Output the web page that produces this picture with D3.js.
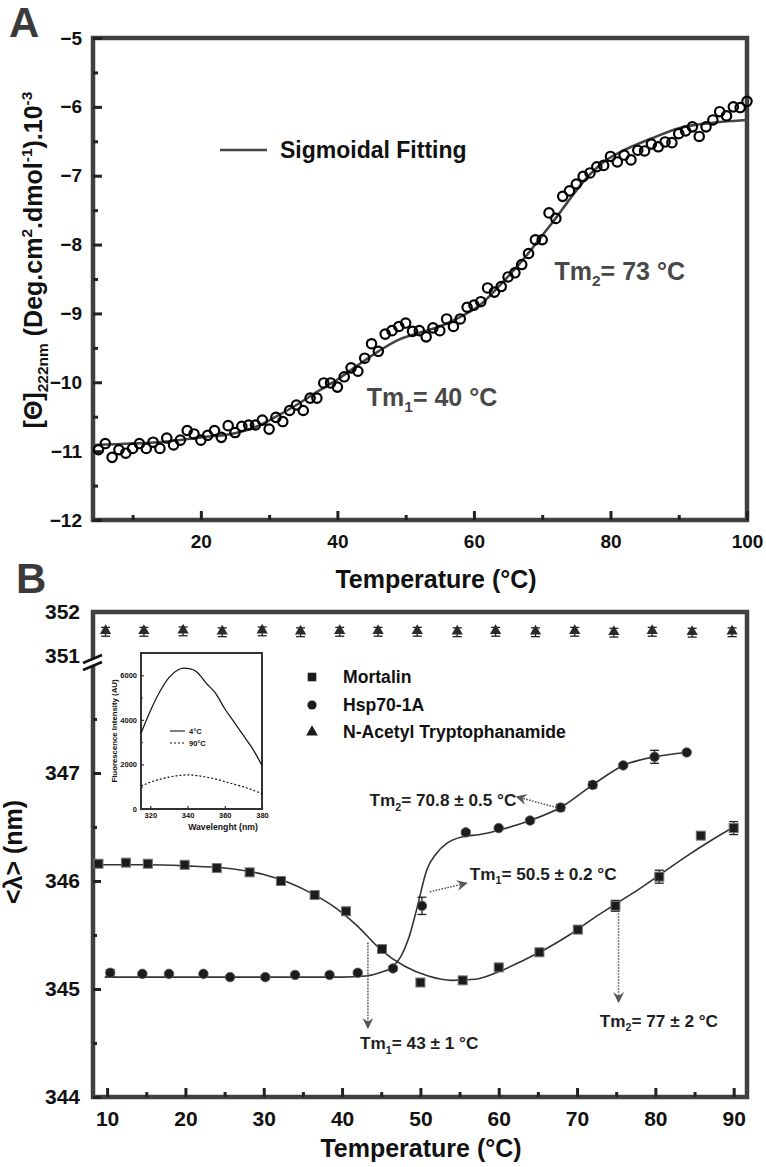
<!DOCTYPE html>
<html><head><meta charset="utf-8">
<script src="https://cdn.jsdelivr.net/npm/d3@7"></script>
<style>
body{margin:0;background:#fff}
svg{display:block}
text{font-family:"Liberation Sans",Arial,Helvetica,sans-serif;font-weight:bold}
</style>
</head><body>
<svg id="c" width="766" height="1167"></svg>
<script>
// ---------------- DATA: Panel A (CD melting) ----------------
const aTemp = [5,6,7,8,9,10,11,12,13,14,15,16,17,18,19,20,21,22,23,24,25,26,27,28,29,30,31,32,33,34,35,36,37,38,39,40,41,42,43,44,45,46,47,48,49,50,51,52,53,54,55,56,57,58,59,60,61,62,63,64,65,66,67,68,69,70,71,72,73,74,75,76,77,78,79,80,81,82,83,84,85,86,87,88,89,90,91,92,93,94,95,96,97,98,99,100];
const aTheta = [-10.98,-10.89,-11.09,-10.98,-11.03,-10.96,-10.89,-10.96,-10.87,-10.96,-10.81,-10.91,-10.84,-10.70,-10.75,-10.84,-10.77,-10.70,-10.80,-10.63,-10.73,-10.64,-10.62,-10.62,-10.55,-10.68,-10.51,-10.57,-10.41,-10.33,-10.41,-10.23,-10.23,-10.01,-10.01,-10.07,-9.92,-9.79,-9.84,-9.65,-9.44,-9.55,-9.30,-9.25,-9.19,-9.14,-9.26,-9.25,-9.34,-9.21,-9.25,-9.08,-9.19,-9.08,-8.91,-8.88,-8.83,-8.63,-8.69,-8.61,-8.47,-8.41,-8.29,-8.13,-7.93,-7.93,-7.54,-7.62,-7.30,-7.22,-7.12,-7.01,-6.96,-6.87,-6.85,-6.72,-6.80,-6.70,-6.77,-6.63,-6.64,-6.54,-6.58,-6.51,-6.52,-6.39,-6.35,-6.29,-6.43,-6.29,-6.19,-6.07,-6.13,-6.00,-6.01,-5.92];
const aFitT = [4.2,10,15,20,25,28,31,34,37,40,43,46,49,52,55,58,61,64,67,68.5,70,71.5,73,74.5,76,77.5,79,82,86,90,95,100];
const aFitV = [-10.91,-10.89,-10.86,-10.80,-10.74,-10.65,-10.50,-10.33,-10.14,-9.96,-9.75,-9.55,-9.38,-9.28,-9.19,-9.05,-8.87,-8.57,-8.24,-8.06,-7.87,-7.68,-7.48,-7.28,-7.09,-6.93,-6.80,-6.63,-6.46,-6.31,-6.23,-6.19];
const aXTicks = [20,40,60,80,100];
const aXMinor = [10,30,50,70,90];
const aYTicks = [-12,-11,-10,-9,-8,-7,-6,-5];
const aYMinor = [-11.5,-10.5,-9.5,-8.5,-7.5,-6.5,-5.5];

// ---------------- DATA: Panel B (fluorescence <lambda>) ----------------
const mortT = [8.9,12.4,15.2,19.9,24.0,28.2,32.2,36.5,40.5,45.1,50.0,55.4,60.0,65.2,70.1,74.9,80.5,85.8,90.0];
const mortV = [346.16,346.17,346.16,346.15,346.12,346.08,346.00,345.87,345.72,345.37,345.06,345.08,345.20,345.34,345.55,345.77,346.04,346.42,346.49];
const mortErr = [0.02,0.02,0.02,0.02,0.02,0.02,0.04,0.02,0.03,0.03,0.03,0.02,0.02,0.02,0.02,0.05,0.06,0.02,0.06];
const hspT = [10.4,14.5,17.9,22.3,25.7,30.2,34.0,38.4,42.0,46.5,50.2,55.8,60.0,64.0,67.9,72.0,75.9,79.9,84.0];
const hspV = [345.15,345.14,345.14,345.14,345.11,345.11,345.13,345.13,345.15,345.19,345.77,346.45,346.49,346.56,346.68,346.89,347.07,347.15,347.19];
const hspErr = [0.03,0.01,0.01,0.01,0.01,0.02,0.01,0.01,0.02,0.02,0.08,0.02,0.01,0.02,0.03,0.03,0.01,0.06,0.01];
const natT = [9.8,14.7,19.7,24.7,29.8,34.7,39.7,44.6,49.6,54.7,59.6,64.7,69.7,74.7,79.6,84.7,89.8];
const natV = [351.55,351.55,351.56,351.54,351.56,351.54,351.55,351.55,351.55,351.54,351.55,351.54,351.55,351.53,351.55,351.53,351.54];
const mortFitT = [8.2,15,20,25,30,33,36,39,42,45,48,51,54,57,60,63,66,69,72,75,78,81,84,87,90];
const mortFitV = [346.15,346.15,346.14,346.12,346.06,345.99,345.89,345.76,345.58,345.36,345.21,345.12,345.08,345.09,345.16,345.26,345.37,345.50,345.65,345.79,345.93,346.08,346.23,346.37,346.50];
const hspFitT = [9.7,15,20,25,30,35,40,43,44.8,46.5,47.5,48.5,49.5,50.8,52.1,53.4,55.4,57.6,60,64,67.9,72,75.9,79.9,84];
const hspFitV = [345.11,345.11,345.11,345.11,345.11,345.11,345.11,345.12,345.15,345.21,345.30,345.47,345.73,346.10,346.26,346.35,346.41,346.43,346.47,346.56,346.68,346.89,347.07,347.15,347.19];
const bXTicks = [10,20,30,40,50,60,70,80,90];
const bXMinor = [15,25,35,45,55,65,75,85];
const bYTicksLow = [344,345,346,347];
const bYMinorLow = [344.5,345.5,346.5,347.5];
const bYTicksUp = [351,352];
const legendB = ["Mortalin","Hsp70-1A","N-Acetyl Tryptophanamide"];

// ---------------- DATA: inset (emission spectra) ----------------
const inWl4 = [315,320,325,330,335,338,341,345,350,355,360,365,370,375,380];
const inI4 = [3400,4400,5250,5900,6250,6320,6300,6150,5650,5200,4500,3900,3300,2700,1950];
const inWl90 = [315,320,325,330,335,340,345,350,355,360,365,370,375,380];
const inI90 = [1030,1200,1330,1430,1500,1530,1500,1430,1350,1230,1110,1000,850,680];
const inXTicks = [320,340,360,380];
const inYTicks = [0,2000,4000,6000];
const inYMinor = [1000,3000,5000];

// ---------------- helpers ----------------
const svg = d3.select('#c');
const FRAME = '#404040';
function rich(sel, parts, fs){
  let shift = 0;
  parts.forEach(p=>{
    const target = p.sub ? 0.25*fs : (p.sup ? -0.42*fs : 0);
    const ts = sel.append('tspan').text(p.t).attr('dy', target-shift);
    if(p.sub||p.sup) ts.attr('font-size', fs*0.62);
    shift = target;
  });
  return sel;
}
function styleAxis(g, fs, col, sw){
  g.select('.domain').remove();
  g.selectAll('.tick line').attr('stroke', col||'#222').attr('stroke-width', sw||3);
  g.selectAll('.tick text').attr('font-size', fs).attr('fill','#111')
   .attr('font-family','"Liberation Sans",Arial,sans-serif').attr('font-weight','bold');
}
const defs = svg.append('defs');
defs.append('marker').attr('id','ah').attr('viewBox','0 0 10 10').attr('refX',9).attr('refY',5)
  .attr('markerWidth',11).attr('markerHeight',11).attr('markerUnits','userSpaceOnUse').attr('orient','auto')
  .append('path').attr('d','M0,0 L10,5 L0,10 L3.5,5 z').attr('fill','#555');

// ================= PANEL A =================
const aL=93, aR=747, aT=38, aB=520;
const aX = d3.scaleLinear().domain([4.2,100]).range([aL,aR]);
const aY = d3.scaleLinear().domain([-12,-5]).range([aB,aT]);
const gA = svg.append('g');

gA.append('rect').attr('x',aL).attr('y',aT).attr('width',aR-aL).attr('height',aB-aT)
  .attr('fill','none').attr('stroke',FRAME).attr('stroke-width',4.5);

gA.append('g').attr('transform',`translate(0,${aB})`)
  .call(d3.axisBottom(aX).tickValues(aXTicks).tickSize(-9).tickPadding(15).tickFormat(d3.format('d')))
  .call(g=>styleAxis(g,19));
gA.append('g').attr('transform',`translate(0,${aB})`)
  .call(d3.axisBottom(aX).tickValues(aXMinor).tickSize(-5).tickFormat(''))
  .call(g=>styleAxis(g,19));
gA.append('g').attr('transform',`translate(${aL},0)`)
  .call(d3.axisLeft(aY).tickValues(aYTicks).tickSize(-9).tickPadding(11).tickFormat(d3.format('d')))
  .call(g=>styleAxis(g,19));
gA.append('g').attr('transform',`translate(${aL},0)`)
  .call(d3.axisLeft(aY).tickValues(aYMinor).tickSize(-5).tickFormat(''))
  .call(g=>styleAxis(g,19));

// fit line
gA.append('path').datum(aFitT.map((t,i)=>[t,aFitV[i]]))
  .attr('d', d3.line().x(d=>aX(d[0])).y(d=>aY(d[1])).curve(d3.curveMonotoneX))
  .attr('fill','none').attr('stroke','#444').attr('stroke-width',2.6);
// data points
gA.append('g').selectAll('circle').data(aTemp.map((t,i)=>[t,aTheta[i]])).join('circle')
  .attr('cx',d=>aX(d[0])).attr('cy',d=>aY(d[1])).attr('r',4.7)
  .attr('fill','none').attr('stroke','#000').attr('stroke-width',2.2);

// legend
gA.append('line').attr('x1',220).attr('x2',267).attr('y1',150).attr('y2',150)
  .attr('stroke','#444').attr('stroke-width',2.6);
gA.append('text').attr('x',280).attr('y',158).attr('font-size',23).attr('fill','#111').text('Sigmoidal Fitting');

// Tm labels A
rich(gA.append('text').attr('x',aX(71.8)).attr('y',aY(-8.51)).attr('font-size',25).attr('fill','#484848'),
  [{t:'Tm'},{t:'2',sub:true},{t:'= 73 °C'}],25);
rich(gA.append('text').attr('x',aX(44.3)).attr('y',aY(-10.34)).attr('font-size',25).attr('fill','#484848'),
  [{t:'Tm'},{t:'1',sub:true},{t:'= 40 °C'}],25);

// axis titles A
gA.append('text').attr('x',436).attr('y',588).attr('text-anchor','middle').attr('font-size',25).attr('fill','#111')
  .text('Temperature (°C)');
rich(gA.append('text').attr('transform','translate(42,260) rotate(-90)').attr('text-anchor','middle')
  .attr('font-size',25).attr('fill','#111'),
  [{t:'[Θ]'},{t:'222nm',sub:true},{t:' (Deg.cm'},{t:'2',sup:true},{t:'.dmol'},{t:'-1',sup:true},{t:').10'},{t:'-3',sup:true}],25);
svg.append('text').attr('x',9).attr('y',37).attr('font-size',42).attr('fill','#3a3a3a').text('A');

// ================= PANEL B =================
const bL=93, bR=747, bT=612, bB=1097;
const bX = d3.scaleLinear().domain([8.2,91.7]).range([bL,bR]);
const yLow = d3.scaleLinear().domain([344,348]).range([bB,665]);
const yUp = d3.scaleLinear().domain([351,352]).range([656,bT]);
const bY = v => v>=350 ? yUp(v) : yLow(v);
const gB = svg.append('g');

// frame (left axis broken)
const fr = gB.append('g').attr('stroke',FRAME).attr('stroke-width',4.5).attr('fill','none');
fr.append('path').attr('d',`M${bL},${yUp(351)+3} L${bL},${bT} L${bR},${bT} L${bR},${bB} L${bL},${bB} L${bL},${yLow(348)-1}`);
// break marks
gB.append('polygon').attr('points',`${bL-9},${yUp(351)+7} ${bL+9},${yUp(351)-1} ${bL+9},${yLow(348)-3} ${bL-9},${yLow(348)+5}`)
  .attr('fill','#fff');
[yUp(351)+7, yLow(348)+5].forEach(yy=>{
  gB.append('line').attr('x1',bL-10).attr('y1',yy).attr('x2',bL+9).attr('y2',yy-8)
    .attr('stroke','#111').attr('stroke-width',2.6);
});

gB.append('g').attr('transform',`translate(0,${bB})`)
  .call(d3.axisBottom(bX).tickValues(bXTicks).tickSize(-9).tickPadding(14).tickFormat(d3.format('d')))
  .call(g=>styleAxis(g,21));
gB.append('g').attr('transform',`translate(0,${bB})`)
  .call(d3.axisBottom(bX).tickValues(bXMinor).tickSize(-5).tickFormat(''))
  .call(g=>styleAxis(g,21));
gB.append('g').attr('transform',`translate(${bL},0)`)
  .call(d3.axisLeft(yLow).tickValues(bYTicksLow).tickSize(-8).tickPadding(13).tickFormat(d3.format('d')))
  .call(g=>styleAxis(g,21));
gB.append('g').attr('transform',`translate(${bL},0)`)
  .call(d3.axisLeft(yLow).tickValues(bYMinorLow).tickSize(-4).tickFormat(''))
  .call(g=>styleAxis(g,21));
gB.append('g').attr('transform',`translate(${bL},0)`)
  .call(d3.axisLeft(yUp).tickValues(bYTicksUp).tickSize(0).tickPadding(13).tickFormat(d3.format('d')))
  .call(g=>styleAxis(g,21));

// fits
const lineB = d3.line().x(d=>bX(d[0])).y(d=>bY(d[1])).curve(d3.curveMonotoneX);
gB.append('path').datum(mortFitT.map((t,i)=>[t,mortFitV[i]])).attr('d',lineB)
  .attr('fill','none').attr('stroke','#333').attr('stroke-width',1.6);
gB.append('path').datum(hspFitT.map((t,i)=>[t,hspFitV[i]])).attr('d',lineB)
  .attr('fill','none').attr('stroke','#333').attr('stroke-width',1.6);

// error bars
function errBars(T,V,E){
  const g = gB.append('g').attr('stroke','#222').attr('stroke-width',1.3);
  T.forEach((t,i)=>{
    const x=bX(t), y1=bY(V[i]-E[i]), y2=bY(V[i]+E[i]);
    g.append('line').attr('x1',x).attr('x2',x).attr('y1',y1).attr('y2',y2);
    g.append('line').attr('x1',x-4.5).attr('x2',x+4.5).attr('y1',y1).attr('y2',y1);
    g.append('line').attr('x1',x-4.5).attr('x2',x+4.5).attr('y1',y2).attr('y2',y2);
  });
}
errBars(mortT,mortV,mortErr);
errBars(hspT,hspV,hspErr);
errBars(natT,natV,natT.map(()=>0.1));

gB.append('g').selectAll('rect').data(mortT.map((t,i)=>[t,mortV[i]])).join('rect')
  .attr('x',d=>bX(d[0])-4.5).attr('y',d=>bY(d[1])-4.5).attr('width',9).attr('height',9)
  .attr('fill','#1c1c1c').attr('stroke','#777').attr('stroke-width',1);
gB.append('g').selectAll('circle').data(hspT.map((t,i)=>[t,hspV[i]])).join('circle')
  .attr('cx',d=>bX(d[0])).attr('cy',d=>bY(d[1])).attr('r',4.8)
  .attr('fill','#1c1c1c').attr('stroke','#666').attr('stroke-width',0.8);
const tri = d3.symbol(d3.symbolTriangle).size(55);
gB.append('g').selectAll('path').data(natT.map((t,i)=>[t,natV[i]])).join('path')
  .attr('transform',d=>`translate(${bX(d[0])},${bY(d[1])-1})`).attr('d',tri).attr('fill','#2a2a2a');

// legend B
const lg = gB.append('g');
const lgY = [677,705,732];
lg.append('rect').attr('x',312-4.3).attr('y',lgY[0]-4.3).attr('width',8.6).attr('height',8.6).attr('fill','#1c1c1c');
lg.append('circle').attr('cx',312).attr('cy',lgY[1]).attr('r',4.6).attr('fill','#1c1c1c');
lg.append('path').attr('transform',`translate(312,${lgY[2]})`).attr('d',d3.symbol(d3.symbolTriangle).size(60)).attr('fill','#1c1c1c');
legendB.forEach((s,i)=>lg.append('text').attr('x',343).attr('y',lgY[i]+6).attr('font-size',17.6).attr('fill','#111').text(s));

// annotations B: arrows in data coordinates
const arrows = [
  {from:[67.4,346.68], to:[62.3,346.78]},
  {from:[51.2,345.90], to:[55.9,345.98]},
  {from:[43.3,345.43], to:[43.3,344.64]},
  {from:[75.3,345.73], to:[75.3,344.88]}
];
arrows.forEach(a=>{
  gB.append('line').attr('x1',bX(a.from[0])).attr('y1',bY(a.from[1])).attr('x2',bX(a.to[0])).attr('y2',bY(a.to[1]))
    .attr('stroke','#555').attr('stroke-width',1.5).attr('stroke-dasharray','1.6,1.4').attr('marker-end','url(#ah)');
});
const tmLabels = [
  {pos:[43.5,346.69], n:'2', s:'= 70.8 ± 0.5 °C'},
  {pos:[56.3,346.01], n:'1', s:'= 50.5 ± 0.2 °C'},
  {pos:[42.3,344.44], n:'1', s:'= 43 ± 1 °C'},
  {pos:[72.9,344.65], n:'2', s:'= 77 ± 2 °C'}
];
tmLabels.forEach(l=>{
  rich(gB.append('text').attr('x',bX(l.pos[0])).attr('y',bY(l.pos[1])).attr('font-size',17.2).attr('fill','#1e1e1e'),
    [{t:'Tm'},{t:l.n,sub:true},{t:l.s}],17.2);
});

// axis titles B
gB.append('text').attr('x',421).attr('y',1157).attr('text-anchor','middle').attr('font-size',25).attr('fill','#111')
  .text('Temperature (°C)');
gB.append('text').attr('transform','translate(22,852) rotate(-90)').attr('text-anchor','middle')
  .attr('font-size',25).attr('fill','#111').text('<λ> (nm)');
svg.append('text').attr('x',16).attr('y',593).attr('font-size',42).attr('fill','#3a3a3a').text('B');

// ================= INSET =================
const iL=141, iR=262, iT=653, iB=809;
const iX = d3.scaleLinear().domain([315,380]).range([iL,iR]);
const iY = d3.scaleLinear().domain([0,7000]).range([iB,iT]);
const gI = svg.append('g');
gI.append('rect').attr('x',iL).attr('y',iT).attr('width',iR-iL).attr('height',iB-iT).attr('fill','#fff')
  .attr('stroke','#333').attr('stroke-width',2);
gI.append('g').attr('transform',`translate(0,${iB})`)
  .call(d3.axisBottom(iX).tickValues(inXTicks).tickSize(-3).tickPadding(4).tickFormat(d3.format('d')))
  .call(g=>styleAxis(g,7.5,'#333',1.2));
gI.append('g').attr('transform',`translate(${iL},0)`)
  .call(d3.axisLeft(iY).tickValues(inYTicks).tickSize(-3).tickPadding(4).tickFormat(d3.format('d')))
  .call(g=>styleAxis(g,7.5,'#333',1.2));
gI.append('g').attr('transform',`translate(${iL},0)`)
  .call(d3.axisLeft(iY).tickValues(inYMinor).tickSize(-2).tickFormat(''))
  .call(g=>styleAxis(g,7.5,'#333',1));
const lineI = d3.line().x(d=>iX(d[0])).y(d=>iY(d[1])).curve(d3.curveMonotoneX);
gI.append('path').datum(inWl4.map((w,i)=>[w,inI4[i]])).attr('d',lineI).attr('fill','none').attr('stroke','#111').attr('stroke-width',1.2);
gI.append('path').datum(inWl90.map((w,i)=>[w,inI90[i]])).attr('d',lineI).attr('fill','none').attr('stroke','#111')
  .attr('stroke-width',1.2).attr('stroke-dasharray','2,2');
gI.append('line').attr('x1',170).attr('x2',185).attr('y1',731).attr('y2',731).attr('stroke','#111').attr('stroke-width',1.1);
gI.append('line').attr('x1',170).attr('x2',185).attr('y1',743).attr('y2',743).attr('stroke','#111').attr('stroke-width',1.1).attr('stroke-dasharray','2,2');
gI.append('text').attr('x',189).attr('y',734).attr('font-size',7.5).attr('fill','#111').text('4°C');
gI.append('text').attr('x',189).attr('y',746).attr('font-size',7.5).attr('fill','#111').text('90°C');
gI.append('text').attr('x',223).attr('y',830).attr('text-anchor','middle').attr('font-size',8.7).attr('fill','#111').text('Wavelenght (nm)');
gI.append('text').attr('transform','translate(117,731) rotate(-90)').attr('text-anchor','middle')
  .attr('font-size',7.8).attr('fill','#111').text('Fluorescence Intensity (AU)');
</script>
</body></html>
